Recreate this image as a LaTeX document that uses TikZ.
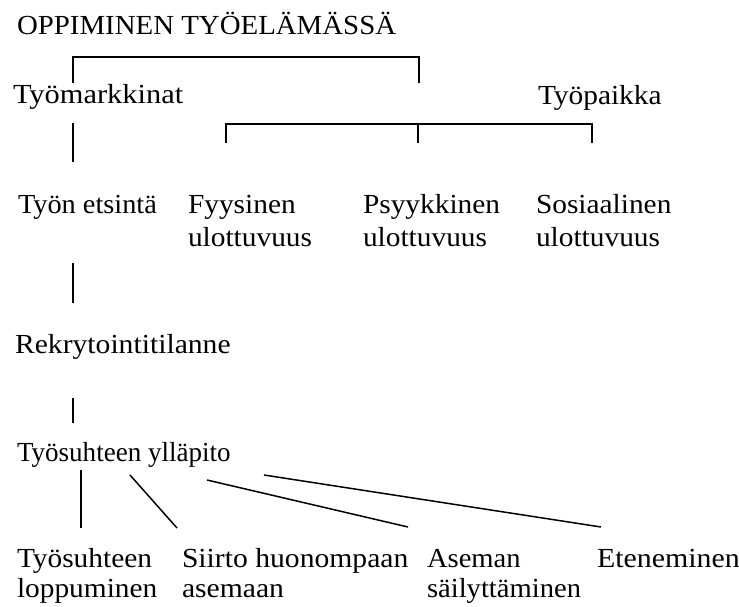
\documentclass[tikz,border=0pt]{standalone}
\usepackage{fontspec}
\setmainfont{Liberation Serif}
\begin{document}
\begin{tikzpicture}[x=1pt,y=-1pt,
  lbl/.style={anchor=base west,inner sep=0pt,outer sep=0pt,font=\fontsize{26}{31}\selectfont,align=left,yscale=1.06},
  lblb/.style={lbl,font=\fontsize{26}{28.3}\selectfont},
  conn/.style={line width=1.5pt},
  thin/.style={line width=1.1pt}]
\useasboundingbox[fill=white] (0,0) rectangle (739,607);
% texts
\node[lbl,xscale=1.11] (title) at (17,35) {OPPIMINEN TYÖELÄMÄSSÄ};
\node[lbl,xscale=1.17] (tm) at (13,104) {Työmarkkinat};
\node[lbl,xscale=1.13] (tp) at (538,105) {Työpaikka};
\node[lbl,xscale=1.09] (te) at (18,213) {Työn etsintä};
\node[lbl,xscale=1.13] (fy) at (188,246) {Fyysinen\\ulottuvuus};
\node[lbl,xscale=1.13] (ps) at (363,246) {Psyykkinen\\ulottuvuus};
\node[lbl,xscale=1.13] (so) at (536,246) {Sosiaalinen\\ulottuvuus};
\node[lbl,xscale=1.14] (rek) at (15,353) {Rekrytointitilanne};
\node[lbl,xscale=1.04] (tyl) at (17,461) {Työsuhteen ylläpito};
\node[lblb,xscale=1.13] (lop) at (17,597) {Työsuhteen\\loppuminen};
\node[lblb,xscale=1.14] (sii) at (182,597) {Siirto huonompaan\\asemaan};
\node[lblb,xscale=1.1] (ase) at (427,597) {Aseman\\säilyttäminen};
\node[lblb,xscale=1.15] (ete) at (597,567) {Eteneminen};
% connector end points
\coordinate (b1l) at (73,83);
\coordinate (b1r) at (419,83);
\coordinate (v1t) at (73,123);
\coordinate (v1b) at (73,162);
\coordinate (b2l) at (226,143);
\coordinate (b2m) at (418,143);
\coordinate (b2r) at (592,143);
\coordinate (v2t) at (73,263);
\coordinate (v2b) at (73,303);
\coordinate (v3t) at (73,398);
\coordinate (v3b) at (73,423);
\coordinate (d1t) at (81,470);
\coordinate (d1b) at (81,528);
\coordinate (d2t) at (130,475);
\coordinate (d2b) at (177,528);
\coordinate (d3t) at (207,480);
\coordinate (d3b) at (408,527);
\coordinate (d4t) at (264,475);
\coordinate (d4b) at (601,527);
% connectors
\draw[conn] (b1l) -- (b1l |- 0,57) -- (b1r |- 0,57) -- (b1r);
\draw[conn] (v1t) -- (v1b);
\draw[conn] (b2l) -- (b2l |- 0,124) -- (b2r |- 0,124) -- (b2r);
\draw[conn] (b2m) -- (b2m |- 0,124);
\draw[conn] (v2t) -- (v2b);
\draw[conn] (v3t) -- (v3b);
\draw[thin] (d1t) -- (d1b);
\draw[conn] (d2t) -- (d2b);
\draw[conn] (d3t) -- (d3b);
\draw[conn] (d4t) -- (d4b);
\end{tikzpicture}
\end{document}
